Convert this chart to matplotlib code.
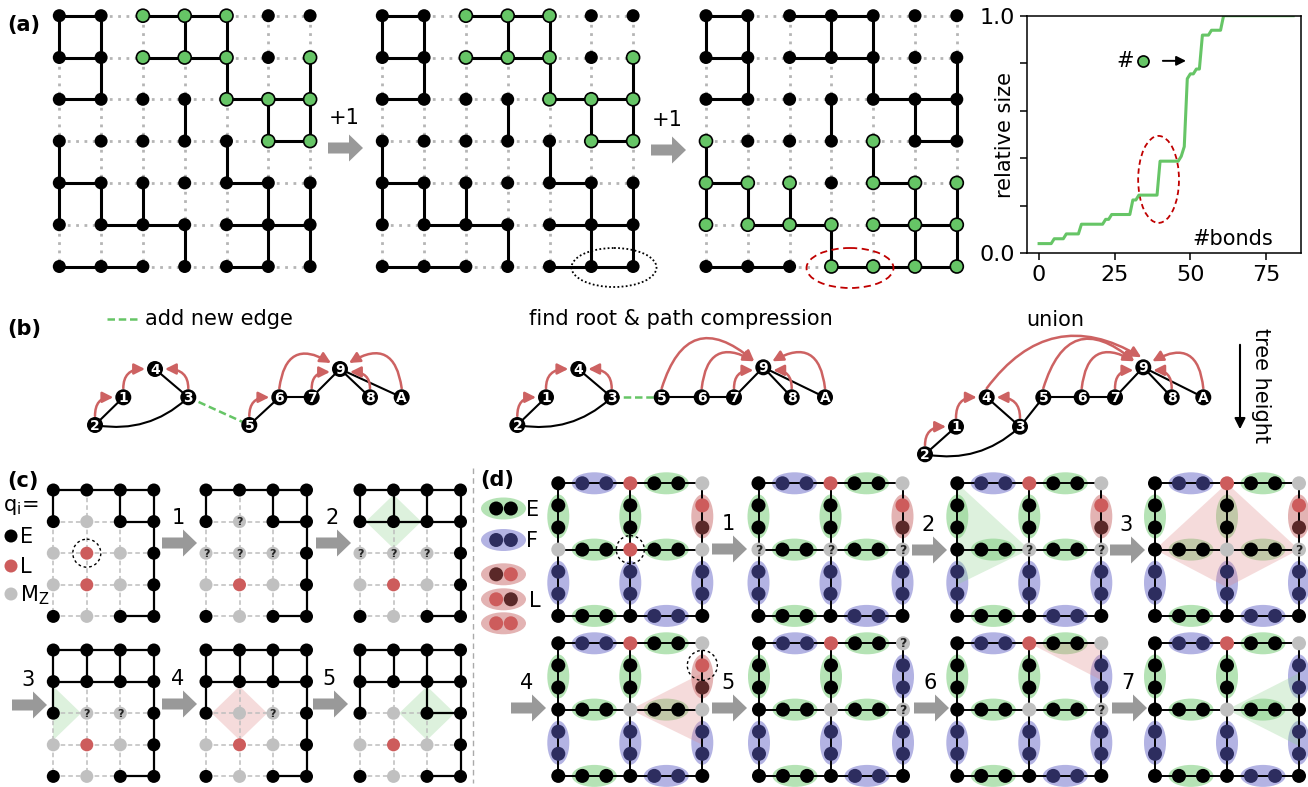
import matplotlib
matplotlib.use("Agg")
import matplotlib.pyplot as plt
from matplotlib.patches import Circle, Ellipse, Polygon, FancyArrow, FancyArrowPatch, Rectangle

W, H = 1308, 787

# ---------------- (a) bond percolation on a 7x7 lattice ----------------
# horizontal bond (r, c): site (r, c) -- (r, c+1); vertical bond (r, c): site (r, c) -- (r+1, c)
A_H = [(0, 0), (0, 2), (0, 3), (1, 0), (1, 2), (1, 3), (2, 0), (2, 4), (2, 5), (3, 5),
       (4, 0), (4, 4), (5, 1), (5, 2), (5, 4), (5, 5), (6, 0), (6, 1), (6, 4)]
A_V = [(0, 0), (0, 1), (0, 3), (0, 4), (1, 1), (1, 4), (1, 6), (2, 3), (2, 5), (2, 6),
       (3, 0), (3, 4), (4, 0), (4, 1), (4, 2), (4, 5), (4, 6), (5, 3), (5, 5), (5, 6)]
A_NEW = [(6, 5), (6, 3)]  # horizontal bonds added by the two "+1" steps
A_GREEN_OLD = [(0, 2), (0, 3), (0, 4), (1, 2), (1, 3), (1, 4), (1, 6), (2, 4), (2, 5), (2, 6),
               (3, 5), (3, 6)]
A_GREEN_NEW = [(3, 0), (3, 4), (4, 0), (4, 1), (4, 2), (4, 4), (4, 5), (4, 6),
               (5, 0), (5, 1), (5, 2), (5, 3), (5, 4), (5, 5), (5, 6),
               (6, 3), (6, 4), (6, 5), (6, 6)]

# size of the largest cluster (sites) after each added bond
CLUSTER = [2, 2, 2, 2, 2, 3, 3, 3, 3, 4, 4, 4, 4, 4,
           6, 6, 6, 6, 6, 6, 6, 6, 7, 7, 8, 8, 8, 8, 8, 8, 8,
           11, 11, 12, 12, 12, 12, 12, 12, 12,
           19, 19, 19, 19, 19, 19, 19, 20, 22, 36, 37, 37, 38, 38,
           45, 45, 45, 46, 46, 46, 46,
           49, 49, 49, 49, 49, 49, 49, 49, 49, 49, 49, 49,
           49, 49, 49, 49, 49, 49, 49, 49, 49, 49, 49, 49]
N_SITES = 49
X_TICKS = [0, 25, 50, 75]
Y_TICKS = [0.0, 0.2, 0.4, 0.6, 0.8, 1.0]
Y_TICKLABELS = ["0.0", "", "", "", "", "1.0"]

# ---------------- (b) union-find trees ----------------
B_EDGES = [("2", "1"), ("4", "3"), ("5", "6"), ("6", "7"), ("7", "9"), ("9", "8"), ("9", "A")]
B_CURVED = ("2", "3")
B_NEW = ("3", "5")
B_PARENTS = [
    [("2", "1"), ("1", "4"), ("3", "4"), ("5", "6"), ("6", "9"), ("7", "9"), ("8", "9"), ("A", "9")],
    [("2", "1"), ("1", "4"), ("3", "4"), ("5", "9"), ("6", "9"), ("7", "9"), ("8", "9"), ("A", "9")],
    [("2", "1"), ("1", "4"), ("3", "4"), ("4", "9"), ("5", "9"), ("6", "9"), ("7", "9"), ("8", "9"),
     ("A", "9")],
]
B_TITLES = ["find root & path compression", "union"]

# ---------------- (c) 4x5 lattice decoding ----------------
C_STATES = [
    ["EEEE", "EMEE", "MLME", "MLME", "EMEE"],
    ["EEEE", "E?EE", "???E", "MLME", "EMEE"],
    ["EEEE", "EEEE", "???E", "MLME", "EMEE"],
    ["EEEE", "EEEE", "E??E", "MLME", "EMEE"],
    ["EEEE", "EEEE", "EM?E", "MLME", "EMEE"],
    ["EEEE", "EEEE", "EMEE", "MLME", "EMEE"],
]
C_H1 = [(0, 0), (0, 1), (0, 2), (1, 2), (4, 2)]
C_V1 = [(0, 0), (0, 2), (0, 3), (1, 3), (2, 3), (3, 3)]
C_H2 = [(0, 0), (0, 1), (0, 2), (1, 0), (1, 1), (1, 2), (4, 2)]
C_V2 = [(0, 0), (0, 1), (0, 2), (0, 3), (1, 3), (2, 3), (3, 3)]
C_V3 = C_V2 + [(1, 0)]
C_H = [C_H1, C_H1, C_H2, C_H2, C_H2, C_H2 + [(2, 2)]]
C_V = [C_V1, C_V1, C_V2, C_V3, C_V3, C_V3 + [(1, 2)]]
C_SHADE = [None, None, ("g", 1, 1), ("g", 0, 2), ("r", 1, 2), ("g", 2, 2)]
C_STEPS = ["1", "2", "3", "4", "5"]

# ---------------- (d) 3x3 lattice with edge pairs ----------------
D_STATES = [
    ["ELM", "MLM", "EEE"],
    ["ELM", "???", "EEE"],
    ["ELM", "E??", "EEE"],
    ["ELM", "EM?", "EEE"],
    ["ELM", "EMM", "EEE"],
    ["EL?", "EM?", "EEE"],
    ["ELM", "EM?", "EEE"],
    ["ELM", "EME", "EEE"],
]
D_H = ["FE", "EE", "EF"]                 # per row, edge types left -> right
D_V_OLD = ["EF", "EF", "RF"]             # per column, top -> bottom
D_V_NEW = ["EF", "EF", "FF"]
D_V = [D_V_OLD] * 5 + [D_V_NEW] * 3
D_SHADE = [None, None,
           ("g", [(0, 0), (1, 1), (0, 1.53)]),
           ("r", [(1, 0), (0, 1), (1, 1.57), (2, 1)]),
           ("r", [(1, 1), (2, 0.45), (2, 1.53)]),
           None,
           ("r", [(1, 0), (2, 0), (2, 0.55)]),
           ("g", [(1, 1), (2, 0.45), (2, 1.55)])]
D_STEPS = ["1", "2", "3", "4", "5", "6", "7"]

# ---------------- styles ----------------
GREEN = "#66c566"
RED = "#cd5c5c"
DARK = "#5a2828"
NAVY = "#2d2d5f"
GRAY = "#c0c0c0"
ARROW_RED = "#cd6262"
E_FILL, F_FILL, L_FILL = "#b5e3b5", "#b3b3e3", "#e3b3b3"
SHADE = {"g": ("#8fd18f", 0.3), "r": ("#e08a8a", 0.3)}
NODE_COL = {"E": "k", "L": RED, "M": GRAY, "?": GRAY}
INNER = {"E": ("k", "k", E_FILL), "F": (NAVY, NAVY, F_FILL), "R": (RED, DARK, L_FILL),
         "D": (DARK, RED, L_FILL), "B": (RED, RED, L_FILL)}

fig = plt.figure(figsize=(W / 100, H / 100), dpi=100)
ax = fig.add_axes([0, 0, 1, 1])
ax.set_xlim(0, W)
ax.set_ylim(H, 0)
ax.axis("off")


def dot(x, y, r, fc, ec=None, lw=0, z=4):
    ax.add_patch(Circle((x, y), r, fc=fc, ec=ec if ec else fc, lw=lw, zorder=z))


def qmark(x, y, size=8):
    ax.text(x, y + 0.5, "?", ha="center", va="center", fontsize=size, fontweight="bold",
            color="#222222", zorder=6)


def gray_arrow(x, y, label, dy=-25):
    ax.add_patch(FancyArrow(x, y, 35, 0, width=11, head_width=27, head_length=14,
                            length_includes_head=True, color="#999999", lw=0, zorder=3))
    ax.text(x + 16, y + dy, label, ha="center", va="center", fontsize=15)


def dashed_ring(x, y, r):
    ax.add_patch(Circle((x, y), r, fill=False, ec="k", lw=1, ls=(0, (2, 2)), zorder=7))


# ---------------- panel (a) ----------------
A_X0 = [59.3, 382.3, 706]
A_Y0 = 15.7
A_STEP = 41.8
a_h = [A_H, A_H + A_NEW[:1], A_H + A_NEW]
a_green = [A_GREEN_OLD, A_GREEN_OLD, A_GREEN_NEW]
for x0, hb, gr in zip(A_X0, a_h, a_green):
    hs, vs = set(hb), set(A_V)
    for r in range(7):
        for c in range(7):
            x, y = x0 + c * A_STEP, A_Y0 + r * A_STEP
            if c < 6:
                if (r, c) in hs:
                    ax.plot([x, x + A_STEP], [y, y], color="k", lw=2.2, zorder=2)
                else:
                    ax.plot([x, x + A_STEP], [y, y], color="#b5b5b5", lw=2, ls=(0, (1, 2)), zorder=1)
            if r < 6:
                if (r, c) in vs:
                    ax.plot([x, x], [y, y + A_STEP], color="k", lw=2.2, zorder=2)
                else:
                    ax.plot([x, x], [y, y + A_STEP], color="#b5b5b5", lw=2, ls=(0, (1, 2)), zorder=1)
            if (r, c) in gr:
                dot(x, y, 6.5, GREEN, "k", 1.2)
            else:
                dot(x, y, 6.5, "k")

ax.add_patch(Ellipse((614, 267.5), 85, 39, fill=False, ec="k", lw=1.3, ls=(0, (1, 1.3)), zorder=5))
ax.add_patch(Ellipse((850, 268), 87, 40, fill=False, ec="#c00000", lw=1.3, ls=(0, (4, 2.5)), zorder=5))
gray_arrow(328, 148, "+1", dy=-30)
gray_arrow(651, 150, "+1", dy=-30)
ax.text(7, 25, "(a)", ha="left", va="center", fontsize=15, fontweight="bold")

# plot of the largest cluster
ax2 = fig.add_axes([1027 / W, 1 - 253.3 / H, 274 / W, 237.6 / H])
ax2.plot(range(len(CLUSTER)), [s / N_SITES for s in CLUSTER], color=GREEN, lw=2.2)
ax2.set_xlim(-4, 86.6)
ax2.set_ylim(0, 1)
ax2.set_xticks(X_TICKS)
ax2.set_yticks(Y_TICKS)
ax2.set_yticklabels(Y_TICKLABELS)
ax2.tick_params(labelsize=16, length=5, width=1.1)
for s in ax2.spines.values():
    s.set_linewidth(1.1)
ax2.set_ylabel("relative size", fontsize=15)
ax2.yaxis.set_label_coords(-0.045, 0.5)
ax2.text(0.9, 0.062, "#bonds", transform=ax2.transAxes, ha="right", va="center", fontsize=15)
ax2.text(28.4, 0.81, "#", ha="center", va="center", fontsize=15)
ax2.plot([34.5], [0.81], "o", ms=8, mfc=GREEN, mec="k", mew=1.2)
ax2.annotate("", xy=(49.5, 0.81), xytext=(40, 0.81),
             arrowprops=dict(arrowstyle="-|>", color="k", lw=1.4, mutation_scale=14))
ax2.add_patch(Ellipse((39.5, 0.311), 13.5, 0.366, fill=False, ec="#c00000", lw=1.3,
                      ls=(0, (3, 2))))

# ---------------- panel (b) ----------------
B_POS = [
    {"4": (155, 369), "1": (123.3, 397.3), "3": (188.3, 397.3), "2": (95, 425), "5": (249.3, 425),
     "6": (279.3, 397.3), "7": (311.7, 397.3), "9": (340, 369), "8": (370, 397.3), "A": (401.7, 397.3)},
    {"4": (578.3, 369), "1": (546, 397.3), "3": (611.7, 397.3), "2": (517.3, 425), "5": (661.7, 397.3),
     "6": (701.7, 397.3), "7": (734, 397.3), "9": (763.3, 367.3), "8": (791.7, 397.3), "A": (825, 397.3)},
    {"4": (986.7, 397.3), "1": (956, 426.7), "3": (1020, 426.7), "2": (925, 454.3), "5": (1043.3, 397.3),
     "6": (1081.7, 397.3), "7": (1115, 397.3), "9": (1143.3, 367.3), "8": (1171.7, 397.3),
     "A": (1203.3, 397.3)},
]
R_B = 8
for k, (pos, parents) in enumerate(zip(B_POS, B_PARENTS)):
    for a, b in B_EDGES:
        ax.plot([pos[a][0], pos[b][0]], [pos[a][1], pos[b][1]], color="k", lw=1.5, zorder=2)
    ax.add_patch(FancyArrowPatch(pos[B_CURVED[0]], pos[B_CURVED[1]], arrowstyle="-",
                                 connectionstyle="arc3,rad=0.25", color="k", lw=1.5, zorder=2))
    a, b = B_NEW
    if k < 2:
        ax.plot([pos[a][0], pos[b][0]], [pos[a][1], pos[b][1]], color=GREEN, lw=1.8,
                ls=(0, (3, 1.5)), zorder=2)
    else:
        ax.plot([pos[a][0], pos[b][0]], [pos[a][1], pos[b][1]], color="k", lw=1.5, zorder=2)
    for src, dst in parents:
        (xs, ys), (xd, yd) = pos[src], pos[dst]
        dx = xd - xs
        side = -1 if dx > 0 else 1
        start = (xs, ys - R_B - 1)
        if abs(dx) < 45:
            end = (xd + side * (R_B + 2), yd + (3 if dst == "9" else 0))
            cs = "angle3,angleA=90,angleB=0"
        elif abs(dx) < 130:
            end = (xd + side * (R_B + 1), yd - 6)
            cs = "arc3,rad=%.2f" % (-0.75 if dx > 0 else 0.75)
        else:
            end = (xd - 2, yd - R_B - 2)
            cs = "arc3,rad=-0.45"
        ax.add_patch(FancyArrowPatch(start, end, arrowstyle="-|>", connectionstyle=cs,
                                     color=ARROW_RED, lw=1.8, mutation_scale=16,
                                     shrinkA=0, shrinkB=0, zorder=3))
    for name, (x, y) in pos.items():
        dot(x, y, R_B, "k")
        ax.text(x, y + 0.5, name, ha="center", va="center", color="white", fontsize=10,
                fontweight="bold", zorder=5)

ax.text(7, 329, "(b)", ha="left", va="center", fontsize=15, fontweight="bold")
ax.plot([107, 138], [319, 319], color=GREEN, lw=1.8, ls=(0, (3, 1.5)))
ax.text(145, 319, "add new edge", ha="left", va="center", fontsize=15)
ax.text(681, 319, B_TITLES[0], ha="center", va="center", fontsize=15)
ax.text(1055, 319.5, B_TITLES[1], ha="center", va="center", fontsize=15)
ax.annotate("", xy=(1240, 432), xytext=(1240, 342),
            arrowprops=dict(arrowstyle="-|>", color="k", lw=1.5, mutation_scale=16))
ax.text(1261, 385, "tree height", rotation=270, ha="center", va="center", fontsize=15)

# ---------------- panel (c) ----------------
C_X0 = [53.3, 206, 360, 53.3, 206, 360]
C_Y0 = [490, 490, 490, 650, 650, 650]
C_DX, C_DY = 33.5, 31.6
for x0, y0, states, hb, vb, shade in zip(C_X0, C_Y0, C_STATES, C_H, C_V, C_SHADE):
    hs, vs = set(hb), set(vb)
    if shade:
        col, cc, rr = shade
        cx, cy = x0 + cc * C_DX, y0 + rr * C_DY
        fc, al = SHADE[col]
        poly = Polygon([(cx - 0.83 * C_DX, cy), (cx, cy - 0.85 * C_DY), (cx + 0.83 * C_DX, cy),
                        (cx, cy + 0.85 * C_DY)], closed=True, fc=fc, alpha=al, lw=0, zorder=0.5)
        ax.add_patch(poly)
        poly.set_clip_path(Rectangle((x0, y0), 3 * C_DX, 4 * C_DY, transform=ax.transData))
    for r in range(5):
        for c in range(4):
            x, y = x0 + c * C_DX, y0 + r * C_DY
            if c < 3:
                if (r, c) in hs:
                    ax.plot([x, x + C_DX], [y, y], color="k", lw=1.6, zorder=2)
                else:
                    ax.plot([x, x + C_DX], [y, y], color="#bdbdbd", lw=1.1, ls=(0, (3, 2)), zorder=1)
            if r < 4:
                if (r, c) in vs:
                    ax.plot([x, x], [y, y + C_DY], color="k", lw=1.6, zorder=2)
                else:
                    ax.plot([x, x], [y, y + C_DY], color="#bdbdbd", lw=1.1, ls=(0, (3, 2)), zorder=1)
            s = states[r][c]
            dot(x, y, 6.5, NODE_COL[s])
            if s == "?":
                qmark(x, y)

dashed_ring(C_X0[0] + C_DX, C_Y0[0] + 2 * C_DY, 14)
for (x, y), lab in zip([(162, 543), (316, 543), (12, 705), (162, 704), (313, 704)], C_STEPS):
    gray_arrow(x, y, lab)

ax.text(7, 481, "(c)", ha="left", va="center", fontsize=15, fontweight="bold")
ax.text(3, 507, "q$_\\mathregular{i}$=", ha="left", va="center", fontsize=15)
for (y, s, lab) in [(536, "E", "E"), (566, "L", "L"), (594, "M", "M$_\\mathregular{Z}$")]:
    dot(11, y, 6.5, NODE_COL[s])
    ax.text(20, y + 1, lab, ha="left", va="center", fontsize=15)

ax.plot([473, 473], [468, 783], color="#aaaaaa", lw=1, ls=(0, (4, 3)))

# ---------------- panel (d) ----------------
D_X0 = [558.3, 758.5, 957.3, 1155, 558.3, 759, 957.3, 1155]
D_Y0 = [483.3] * 4 + [643.3] * 4
D_DX, D_DY = 72, 66.3
R_D = 7


def edge_pair(xa, ya, xb, yb, kind, horizontal):
    c1, c2, fill = INNER[kind]
    mx, my = (xa + xb) / 2, (ya + yb) / 2
    w, h = (45, 22) if horizontal else (22, 44)
    ax.add_patch(Ellipse((mx, my), w, h, fc=fill, lw=0, zorder=0.4))
    for f, colr in ((1 / 3, c1), (2 / 3, c2)):
        dot(xa + f * (xb - xa), ya + f * (yb - ya), R_D, colr)


for x0, y0, states, vt, shade in zip(D_X0, D_Y0, D_STATES, D_V, D_SHADE):
    if shade:
        col, pts = shade
        fc, al = SHADE[col]
        ax.add_patch(Polygon([(x0 + px * D_DX, y0 + py * D_DY) for px, py in pts], closed=True,
                             fc=fc, alpha=al, lw=0, zorder=1))
    for r in range(3):
        ax.plot([x0, x0 + 2 * D_DX], [y0 + r * D_DY] * 2, color="k", lw=1.4, zorder=2)
        ax.plot([x0 + r * D_DX] * 2, [y0, y0 + 2 * D_DY], color="k", lw=1.4, zorder=2)
    for r in range(3):
        for c in range(2):
            edge_pair(x0 + c * D_DX, y0 + r * D_DY, x0 + (c + 1) * D_DX, y0 + r * D_DY, D_H[r][c], True)
    for c in range(3):
        for r in range(2):
            edge_pair(x0 + c * D_DX, y0 + r * D_DY, x0 + c * D_DX, y0 + (r + 1) * D_DY, vt[c][r], False)
    for r in range(3):
        for c in range(3):
            s = states[r][c]
            x, y = x0 + c * D_DX, y0 + r * D_DY
            dot(x, y, R_D, NODE_COL[s])
            if s == "?":
                qmark(x, y, 9)

dashed_ring(D_X0[0] + D_DX, D_Y0[0] + D_DY, 14)
dashed_ring(D_X0[4] + 2 * D_DX, D_Y0[4] + D_DY / 3, 15)
for (x, y), lab in zip([(712, 549), (912, 550), (1110, 550), (511, 708), (712, 708), (914, 708),
                        (1112, 708)], D_STEPS):
    gray_arrow(x, y, lab)

ax.text(480, 480, "(d)", ha="left", va="center", fontsize=15, fontweight="bold")
for y, kind in [(508.5, "E"), (540, "F"), (574.3, "D"), (599.3, "R"), (623.3, "B")]:
    edge_pair(481.5, y, 525.5, y, kind, True)
ax.text(526, 509.5, "E", ha="left", va="center", fontsize=15)
ax.text(526, 541, "F", ha="left", va="center", fontsize=15)
ax.text(529, 601, "L", ha="left", va="center", fontsize=15)

fig.savefig("out.png", dpi=100)
